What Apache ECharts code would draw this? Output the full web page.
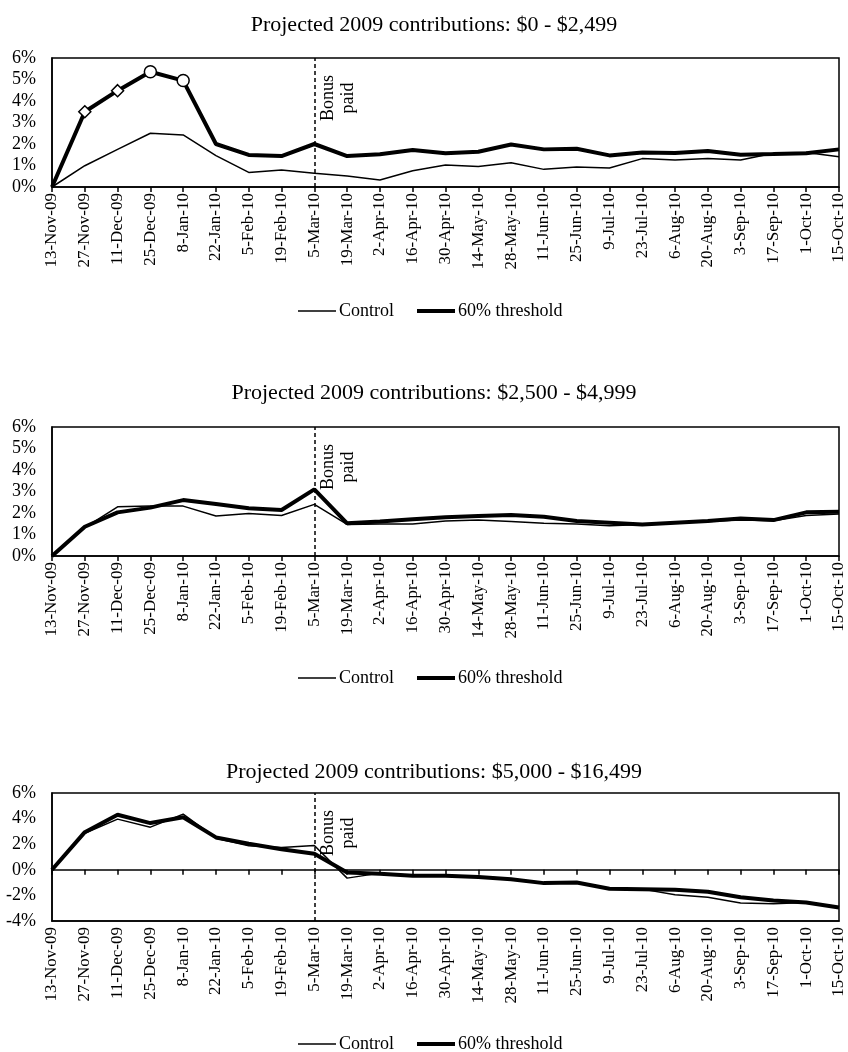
<!DOCTYPE html>
<html>
<head>
<meta charset="utf-8">
<script src="https://cdn.jsdelivr.net/npm/echarts@6/dist/echarts.min.js"></script>
<style>
  html, body { margin: 0; padding: 0; background: #fff; }
  #chart { width: 848px; height: 1052px; }
</style>
</head>
<body>
<div id="chart"></div>
<script>
// Biweekly observation dates
const dates = ['13-Nov-09','27-Nov-09','11-Dec-09','25-Dec-09','8-Jan-10','22-Jan-10','5-Feb-10','19-Feb-10',
  '5-Mar-10','19-Mar-10','2-Apr-10','16-Apr-10','30-Apr-10','14-May-10','28-May-10','11-Jun-10','25-Jun-10',
  '9-Jul-10','23-Jul-10','6-Aug-10','20-Aug-10','3-Sep-10','17-Sep-10','1-Oct-10','15-Oct-10'];

const panelTitles = [
  'Projected 2009 contributions: $0 - $2,499',
  'Projected 2009 contributions: $2,500 - $4,999',
  'Projected 2009 contributions: $5,000 - $16,499'
];

// Change in contribution rate (%) — $0 - $2,499 group
const controlLow = [0, 0.99, 1.75, 2.50, 2.42, 1.46, 0.68, 0.79, 0.64, 0.51, 0.33, 0.76, 1.02, 0.95, 1.13,
  0.82, 0.93, 0.88, 1.32, 1.26, 1.33, 1.26, 1.57, 1.60, 1.41];
const thresholdLow = [0, 3.50, 4.48, 5.36, 4.95, 2.00, 1.49, 1.44, 2.00, 1.44, 1.52, 1.72, 1.57, 1.64, 1.98,
  1.75, 1.78, 1.47, 1.61, 1.58, 1.67, 1.50, 1.53, 1.57, 1.75];
// Marker shapes on the threshold line of the first group (index -> shape)
const lowMarkers = { 1: 'diamond', 2: 'diamond', 3: 'circle', 4: 'circle' };

// $2,500 - $4,999 group
const controlMid = [0, 1.32, 2.29, 2.32, 2.32, 1.86, 1.98, 1.88, 2.40, 1.47, 1.49, 1.49, 1.63, 1.67, 1.60,
  1.52, 1.49, 1.41, 1.47, 1.55, 1.60, 1.67, 1.64, 1.88, 1.95];
const thresholdMid = [0, 1.36, 2.03, 2.25, 2.60, 2.42, 2.22, 2.14, 3.10, 1.52, 1.60, 1.71, 1.80, 1.86, 1.91,
  1.83, 1.63, 1.55, 1.47, 1.55, 1.63, 1.75, 1.67, 2.03, 2.06];

// $5,000 - $16,499 group
const controlHigh = [0, 2.86, 3.96, 3.33, 4.35, 2.47, 1.88, 1.75, 1.90, -0.65, -0.26, -0.47, -0.47, -0.52, -0.70,
  -1.04, -0.99, -1.51, -1.51, -1.95, -2.14, -2.60, -2.66, -2.55, -2.94];
const thresholdHigh = [0, 2.94, 4.30, 3.65, 4.11, 2.53, 2.03, 1.61, 1.25, -0.21, -0.31, -0.47, -0.47, -0.57, -0.73,
  -1.04, -0.99, -1.48, -1.51, -1.56, -1.72, -2.14, -2.40, -2.55, -2.94];

const bonusDate = '5-Mar-10';
const seriesNames = ['Control', '60% threshold'];

const FONT = '"Liberation Serif", "Times New Roman", serif';
const INK = '#000';

const grids = [
  { left: 52, right: 9, top: 58, height: 129 },
  { left: 52, right: 9, top: 427, height: 129 },
  { left: 52, right: 9, top: 793, height: 128 }
];
const titleTops = [9, 377, 756];
const legendTops = [302, 669, 1035];
// legend key per series: left offset and stroke thickness
const legendKeys = [ { left: 298, thick: 1.5 }, { left: 417, thick: 4 } ];

const chart = echarts.init(document.getElementById('chart'), null, { renderer: 'canvas' });

const option = {
  backgroundColor: '#fff',
  animation: false,
  title: panelTitles.map((t, i) => ({
    text: t, left: 429, top: titleTops[i], textAlign: 'center',
    textStyle: { fontFamily: FONT, fontSize: 22, fontWeight: 'normal', color: INK }
  })),
  legend: [],
  grid: grids.map(g => Object.assign({ show: true, borderColor: INK, borderWidth: 1.5, backgroundColor: 'transparent' }, g)),
  xAxis: [],
  yAxis: [],
  series: []
};

legendTops.forEach((top) => {
  seriesNames.forEach((name, k) => {
    option.legend.push({
      data: [name], top: top, left: legendKeys[k].left, padding: 0,
      icon: 'rect', itemWidth: 38, itemHeight: legendKeys[k].thick,
      itemStyle: { color: INK, borderWidth: 0 },
      textStyle: { fontFamily: FONT, fontSize: 18, color: INK, padding: [0, 0, 0, -2] },
      selectedMode: false
    });
  });
});

function labelAxis(gridIndex, withTicks) {
  return {
    type: 'category', gridIndex, data: dates, boundaryGap: false, position: 'bottom',
    axisLine: { show: true, onZero: false, lineStyle: { color: INK, width: 1.5 } },
    axisTick: { show: withTicks, interval: 0, length: 5, lineStyle: { color: INK, width: 1.5 } },
    axisLabel: { interval: 0, rotate: 90, margin: 6, fontFamily: FONT, fontSize: 17, color: INK },
    splitLine: { show: false }
  };
}

// Panels 1 and 2: axis at 0% carries ticks and labels
option.xAxis.push(labelAxis(0, true));
option.xAxis.push(labelAxis(1, true));
// Panel 3: labels along the bottom, tick marks along the zero line
option.xAxis.push(labelAxis(2, false));
option.xAxis.push({
  type: 'category', gridIndex: 2, data: dates, boundaryGap: false, position: 'top',
  axisLine: { show: true, onZero: true, lineStyle: { color: INK, width: 1.5 } },
  axisTick: { show: true, inside: true, interval: 0, length: 5, lineStyle: { color: INK, width: 1.5 } },
  axisLabel: { show: false, interval: 0 }, splitLine: { show: false }
});

const yRanges = [ { min: 0, max: 6, interval: 1 }, { min: 0, max: 6, interval: 1 }, { min: -4, max: 6, interval: 2 } ];
yRanges.forEach((r, i) => {
  option.yAxis.push({
    type: 'value', gridIndex: i, min: r.min, max: r.max, interval: r.interval,
    axisLine: { show: true, lineStyle: { color: INK, width: 1.5 } },
    axisTick: { show: false },
    splitLine: { show: false },
    axisLabel: { formatter: '{value}%', margin: 16, fontFamily: FONT, fontSize: 18, color: INK }
  });
});

function bonusLine() {
  return {
    silent: true, symbol: ['none', 'none'], animation: false,
    lineStyle: { color: INK, type: [4, 3], width: 1.5 },
    label: {
      show: true, formatter: 'Bonus\npaid', position: 'insideEndBottom',
      fontFamily: FONT, fontSize: 18, color: INK, lineHeight: 20, align: 'center',
      distance: [40, 4]
    },
    emphasis: { disabled: true },
    data: [{ xAxis: bonusDate }]
  };
}

const panels = [
  { control: controlLow, threshold: thresholdLow, xIdx: 0 },
  { control: controlMid, threshold: thresholdMid, xIdx: 1 },
  { control: controlHigh, threshold: thresholdHigh, xIdx: 2 }
];

panels.forEach((p, i) => {
  const thrData = p.threshold.map((v, k) => {
    if (i === 0 && lowMarkers[k]) {
      const shape = lowMarkers[k];
      return {
        value: v, symbol: shape, symbolSize: 12,
        itemStyle: { color: '#fff', borderColor: INK, borderWidth: 1.5 }
      };
    }
    return v;
  });
  option.series.push({
    name: seriesNames[0], type: 'line', xAxisIndex: p.xIdx, yAxisIndex: i,
    data: p.control, symbol: 'none', showSymbol: false,
    lineStyle: { color: INK, width: 1.5 }, itemStyle: { color: INK },
    z: 2, markLine: bonusLine()
  });
  option.series.push({
    name: seriesNames[1], type: 'line', xAxisIndex: p.xIdx, yAxisIndex: i,
    data: thrData, symbol: 'none', showSymbol: i === 0,
    lineStyle: { color: INK, width: 4 }, itemStyle: { color: INK },
    z: 3
  });
});

chart.setOption(option);
</script>
</body>
</html>
